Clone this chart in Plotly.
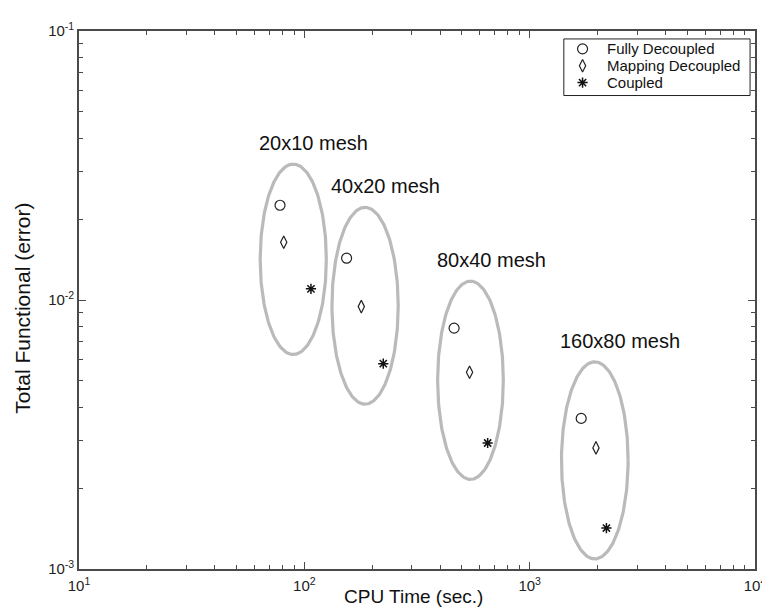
import numpy as np
import plotly.graph_objects as go

# ---- data ----
meshes = ["20x10 mesh", "40x20 mesh", "80x40 mesh", "160x80 mesh"]

fully_cpu = [78, 154, 462, 1693]
fully_err = [0.0225, 0.0143, 0.00786, 0.00363]

mapping_cpu = [81, 179, 541, 1969]
mapping_err = [0.0164, 0.00945, 0.00539, 0.00282]

coupled_cpu = [107, 224, 651, 2191]
coupled_err = [0.0110, 0.0058, 0.00294, 0.00142]

# grouping ellipses (data-space extents)
ell_x_lo = [63.7, 132.6, 390.5, 1384]
ell_x_hi = [125.2, 261.0, 764.0, 2734]
ell_y_lo = [0.00627, 0.0041, 0.002154, 0.00109]
ell_y_hi = [0.0320, 0.0221, 0.01175, 0.00589]

series_names = ["Fully Decoupled", "Mapping Decoupled", "Coupled"]

x_ticks = [10, 100, 1000, 10000]
x_ticktext = ["10<sup>1</sup>", "10<sup>2</sup>", "10<sup>3</sup>", "10<sup>4</sup>"]
y_ticks = [0.001, 0.01, 0.1]
y_ticktext = ["10<sup>-3</sup>", "10<sup>-2</sup>", "10<sup>-1</sup>"]

FONT = "Liberation Sans, Arial, sans-serif"
TICKFONT = "Liberation Sans Narrow, Arial Narrow, Liberation Sans, Arial, sans-serif"
AXC = "#4a4a4a"

# plot area in pixels
W, H = 770, 609
L, R, T, B = 71, 13, 19, 48
PW, PH = W - L - R, H - T - B


def px2paper_x(px):
    return (px - L) / PW


def px2paper_y(py):
    return (H - B - py) / PH


fig = go.Figure()

t = np.linspace(0, 2 * np.pi, 200)
for i, name in enumerate(meshes):
    lx0, lx1 = np.log10(ell_x_lo[i]), np.log10(ell_x_hi[i])
    ly0, ly1 = np.log10(ell_y_lo[i]), np.log10(ell_y_hi[i])
    cx, cy = (lx0 + lx1) / 2, (ly0 + ly1) / 2
    rx, ry = (lx1 - lx0) / 2, (ly1 - ly0) / 2
    fig.add_trace(go.Scatter(
        x=10 ** (cx + rx * np.cos(t)), y=10 ** (cy + ry * np.sin(t)),
        mode="lines", line=dict(color="#bababa", width=3.2),
        showlegend=False, hoverinfo="skip"))
    fig.add_annotation(
        x=lx0, y=ly1, xref="x", yref="y", text=name, showarrow=False,
        xanchor="left", yanchor="bottom", yshift=8, xshift=-3,
        font=dict(family=FONT, size=20, color="#111"))

marker_styles = [
    dict(symbol="circle-open", size=10, color="#222", line=dict(width=1.2)),
    dict(symbol="diamond-tall-open", size=9, color="#222", line=dict(width=1.2)),
    dict(symbol="asterisk-open", size=8.5, color="#111", line=dict(width=1.5)),
]
series = [(fully_cpu, fully_err), (mapping_cpu, mapping_err), (coupled_cpu, coupled_err)]
for (xs, ys), name, ms in zip(series, series_names, marker_styles):
    fig.add_trace(go.Scatter(x=xs, y=ys, mode="markers", name=name,
                             marker=ms, showlegend=False))

# ---- hand-built legend (box, markers, labels) ----
leg_rows_px = [37, 54, 71]
leg_sym_x = px2paper_x(582)
leg_txt_x = px2paper_x(605)
fig.add_shape(type="rect", xref="paper", yref="paper",
              x0=px2paper_x(563), x1=px2paper_x(752),
              y0=px2paper_y(84), y1=px2paper_y(27),
              line=dict(color="#222", width=1), fillcolor="white", layer="below")
for name, ms, ry in zip(series_names, marker_styles, leg_rows_px):
    fig.add_trace(go.Scatter(x=[leg_sym_x], y=[px2paper_y(ry)], xaxis="x2", yaxis="y2",
                             mode="markers", marker=ms, showlegend=False, hoverinfo="skip"))
    fig.add_annotation(x=leg_txt_x, y=px2paper_y(ry), xref="paper", yref="paper",
                       text=name, showarrow=False, xanchor="left", yanchor="middle",
                       font=dict(family=FONT, size=15, color="#111"))

x_minor = [m * 10 ** e for e in range(1, 4) for m in range(2, 10)]
y_minor = [m * 10.0 ** e for e in range(-3, -1) for m in range(2, 10)]

axis_common = dict(
    type="log", showgrid=False, zeroline=False,
    showline=True, linecolor=AXC, linewidth=1.6, mirror="ticks",
    ticks="inside", ticklen=7, tickwidth=1.2, tickcolor=AXC,
    tickfont=dict(family=TICKFONT, size=15, color="#222"),
)

xaxis = dict(
    **axis_common, range=[1, 4], tickmode="array", tickvals=x_ticks, ticktext=x_ticktext,
    ticklabelstandoff=2,
    minor=dict(ticks="inside", ticklen=4, tickwidth=1, tickcolor=AXC, tickmode="array", tickvals=x_minor),
)
yaxis = dict(
    **axis_common, range=[-3, -1], tickmode="array", tickvals=y_ticks, ticktext=y_ticktext,
    minor=dict(ticks="inside", ticklen=4, tickwidth=1, tickcolor=AXC, tickmode="array", tickvals=y_minor),
)

fig.add_annotation(x=px2paper_x(410), y=px2paper_y(589), xref="paper", yref="paper",
                   text="CPU Time (sec.)", showarrow=False,
                   xanchor="center", yanchor="middle",
                   font=dict(family=FONT, size=19, color="#111"))
fig.add_annotation(x=px2paper_x(14), y=px2paper_y(298), xref="paper", yref="paper",
                   text="Total Functional (error)", textangle=-90, showarrow=False,
                   xanchor="center", yanchor="middle",
                   font=dict(family=FONT, size=21, color="#111"))

fig.update_layout(
    width=W, height=H,
    margin=dict(l=L, r=R, t=T, b=B),
    paper_bgcolor="white", plot_bgcolor="white",
    showlegend=False,
    xaxis=xaxis, yaxis=yaxis,
    xaxis2=dict(overlaying="x", range=[0, 1], visible=False, anchor="y2"),
    yaxis2=dict(overlaying="y", range=[0, 1], visible=False, anchor="x2"),
)

fig.write_html("out.html")
